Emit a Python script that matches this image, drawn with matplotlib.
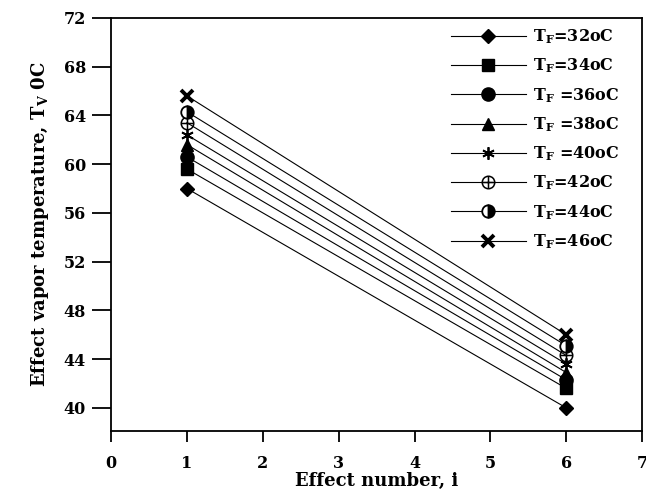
import matplotlib

matplotlib.use("Agg")
import matplotlib.pyplot as plt
from matplotlib.path import Path

# effect numbers and vapour temperatures per feed temperature
effects = [1, 6]
feed_labels = [
    "T$_{\\mathregular{F}}$=32oC",
    "T$_{\\mathregular{F}}$=34oC",
    "T$_{\\mathregular{F}}$ =36oC",
    "T$_{\\mathregular{F}}$ =38oC",
    "T$_{\\mathregular{F}}$ =40oC",
    "T$_{\\mathregular{F}}$=42oC",
    "T$_{\\mathregular{F}}$=44oC",
    "T$_{\\mathregular{F}}$=46oC",
]
tv_32 = [58.0, 40.0]
tv_34 = [59.6, 41.6]
tv_36 = [60.6, 42.3]
tv_38 = [61.6, 42.9]
tv_40 = [62.4, 43.6]
tv_42 = [63.4, 44.3]
tv_44 = [64.3, 45.1]
tv_46 = [65.6, 46.0]
x_ticks = [0, 1, 2, 3, 4, 5, 6, 7]
y_ticks = [40, 44, 48, 52, 56, 60, 64, 68, 72]

# circle with a plus inside (open)
_oplus = Path.make_compound_path(
    Path.unit_circle(),
    Path([[-1, 0], [1, 0]]),
    Path([[0, -1], [0, 1]]),
)

series = [tv_32, tv_34, tv_36, tv_38, tv_40, tv_42, tv_44, tv_46]
markers = [
    dict(marker="D", markersize=7),
    dict(marker="s", markersize=9),
    dict(marker="o", markersize=9.5),
    dict(marker="^", markersize=9),
    dict(marker=(6, 2, 0), markersize=9, markeredgewidth=1.3),
    dict(marker=_oplus, markersize=9, markerfacecolor="none", markeredgewidth=1.1),
    dict(marker="o", markersize=9, fillstyle="right", markerfacecoloralt="white",
         markeredgewidth=1.3),
    dict(marker="x", markersize=8, markeredgewidth=2.8),
]

plt.rcParams.update({
    "font.family": "serif",
    "font.serif": ["DejaVu Serif", "Liberation Serif"],
    "font.weight": "bold",
    "mathtext.fontset": "custom",
    "mathtext.rm": "DejaVu Serif:bold",
    "mathtext.it": "DejaVu Serif:bold",
    "mathtext.bf": "DejaVu Serif:bold",
})

fig = plt.figure(figsize=(6.46, 4.98), dpi=100)
ax = fig.add_axes([0.172, 0.1345, 0.822, 0.8295])

for vals, lab, mk in zip(series, feed_labels, markers):
    style = dict(markerfacecolor="black", markeredgecolor="black")
    style.update(mk)
    ax.plot(effects, vals, color="black", linewidth=0.8, label=lab, **style)

ax.set_xlim(0, 7)
ax.set_ylim(38.1, 72)
ax.set_xticks(x_ticks)
ax.set_yticks(y_ticks)
for s in ax.spines.values():
    s.set_linewidth(1.3)
ax.tick_params(axis="x", direction="out", length=8, width=1.3, labelsize=11.5, pad=9)
ax.tick_params(axis="y", direction="out", length=14, width=1.3, labelsize=11.5, pad=4)
for lab in ax.get_xticklabels() + ax.get_yticklabels():
    lab.set_fontweight("bold")

ax.set_xlabel("Effect number, i", fontsize=13, fontweight="bold", labelpad=0)
ax.set_ylabel("Effect vapor temperature, T$_{\\mathregular{V}}$ 0C",
              fontsize=13, fontweight="bold", labelpad=9)

ax.legend(loc="upper right", bbox_to_anchor=(0.975, 1.0), frameon=False,
          fontsize=11.5, handlelength=4.7, labelspacing=0.66,
          handletextpad=0.45, borderaxespad=0.2)

fig.savefig("out.png", dpi=100, facecolor="white")
